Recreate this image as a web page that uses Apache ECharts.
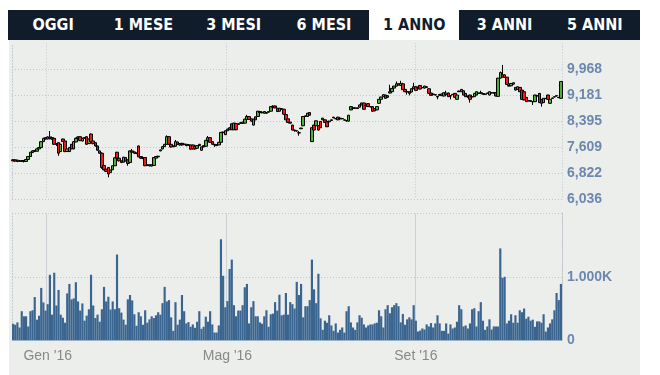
<!DOCTYPE html>
<html>
<head>
<meta charset="utf-8">
<script src="https://cdn.jsdelivr.net/npm/echarts@6/dist/echarts.min.js"></script>
<style>
  html, body { margin:0; padding:0; background:#ffffff; width:660px; height:375px; overflow:hidden; }
  #panel { position:absolute; left:9px; top:40px; width:631px; height:335px; background:#eceeec; }
  #tabs { position:absolute; left:8px; top:10px; width:632px; height:30px; background:#111c2a; display:flex; z-index:5; }
  .tab { flex:1 1 0; text-align:center; line-height:30px; color:#ffffff; font-family:"Liberation Sans Narrow","DejaVu Sans Condensed","Liberation Sans",sans-serif; font-weight:bold; font-size:16px; }
  .tab.active { background:#ffffff; color:#111c2a; }
  #chart { position:absolute; left:0; top:0; width:660px; height:375px; }
</style>
</head>
<body>
<div id="panel"></div>
<div id="tabs"></div>
<div id="chart"></div>
<script>
// ---- tabs ----
const tabLabels = ["OGGI", "1 MESE", "3 MESI", "6 MESI", "1 ANNO", "3 ANNI", "5 ANNI"];
const activeTab = "1 ANNO";

// ---- price axis ----
const priceMin = 6036;
const priceStep = 786.4;
const priceTickLabels = ["6,036", "6,822", "7,609", "8,395", "9,181", "9,968", ""];

// ---- volume axis (K) ----
const volStep = 1000;
const volTickLabels = ["0", "1.000K", ""];

// ---- x axis month marks (trading-day index) ----
const monthIndex = [16, 99, 186];
const monthLabels = ["Gen '16", "Mag '16", "Set '16"];

// ---- daily candles ----
const openP = [7200,7230,7220,7190,7180,7210,7180,7240,7330,7450,7510,7490,7560,7600,7780,7900,7860,7920,7900,7880,
7720,7750,7480,7860,7800,7480,7480,7700,7560,7770,7880,7930,7800,7900,7930,7720,8010,7800,7750,7650,
7500,7430,7060,6950,7000,6850,6930,7050,7460,7280,7200,7160,7300,7230,7150,7500,7470,7440,7650,7330,
7300,7300,7060,7080,7040,7060,7280,7320,7500,7560,7630,7700,7930,7700,7630,7640,7770,7680,7730,7690,
7700,7670,7680,7680,7640,7580,7660,7520,7660,7640,7820,7900,7780,7700,7660,7680,7760,8070,7990,8110,
8200,8320,8140,8330,8300,8340,8330,8340,8450,8540,8470,8280,8530,8540,8690,8650,8640,8660,8670,8700,
8850,8860,8790,8700,8780,8760,8600,8470,8370,8280,8130,8110,8050,8170,8260,8540,8540,8660,7780,8280,
8260,8270,8390,8440,8440,8380,8400,8420,8500,8480,8520,8470,8480,8440,8420,8400,8740,8800,8790,8800,
8820,8890,8950,8860,8930,8840,8840,8780,8740,8940,9060,9140,9190,9170,9250,9290,9400,9460,9530,9480,
9530,9360,9290,9290,9280,9380,9440,9400,9480,9420,9400,9440,9380,9250,9220,9200,9150,9210,9220,9160,
9200,9250,9170,9210,9240,9060,9310,9290,9320,9240,9160,9190,9140,9140,9190,9240,9260,9220,9210,9240,
9190,9260,9250,9260,9150,9700,9800,9800,9730,9480,9470,9520,9420,9360,9420,9340,9290,9120,9020,9020,
8990,8990,9170,9240,9060,8960,9090,9190,8940,9090,9140,9160,9120,9090];
const closeP = [7230,7190,7180,7200,7210,7180,7240,7330,7460,7500,7480,7560,7600,7780,7880,7860,7920,7870,7860,7700,
7700,7430,7700,7780,7480,7560,7600,7560,7780,7880,7920,7810,7880,7890,7700,7860,7780,7720,7650,7520,
7430,7000,6930,6880,6800,6920,7050,7290,7280,7200,7150,7310,7200,7120,7500,7460,7430,7420,7320,7280,
7270,7050,7080,7050,7080,7300,7330,7340,7530,7630,7700,7930,7700,7620,7650,7780,7700,7720,7680,7710,
7660,7690,7550,7560,7560,7660,7700,7620,7620,7820,7900,7760,7700,7680,7690,7760,8060,8050,8110,8160,
8140,8140,8340,8140,8320,8350,8370,8460,8540,8450,8400,8460,8440,8700,8660,8670,8690,8640,8690,8840,
8820,8800,8690,8790,8760,8610,8440,8360,8340,8130,8120,8100,8040,8190,8540,8560,8640,8580,8200,8130,
8410,8130,8200,8490,8360,8230,8380,8440,8520,8470,8440,8490,8470,8430,8410,8580,8840,8790,8800,8780,
8890,8950,8760,8880,8840,8830,8700,8710,8840,9060,9130,9200,9090,9120,9290,9390,9460,9530,9490,9540,
9350,9290,9280,9240,9380,9440,9330,9420,9370,9410,9460,9420,9240,9180,9200,9190,9130,9180,9170,9260,
9250,9140,9160,9200,9120,9190,9290,9360,9190,9140,9140,9060,9130,9240,9290,9250,9240,9230,9220,9250,
9290,9250,9260,9160,9700,9870,9730,9720,9510,9460,9540,9560,9340,9440,9290,9060,9040,8990,9010,9000,
8990,9190,9160,8960,8940,9090,9080,9060,9060,9100,9130,9170,9110,9600];
const lowP = [7190,7170,7160,7170,7170,7150,7170,7230,7320,7440,7470,7480,7550,7590,7770,7840,7850,7850,7840,7680,
7650,7350,7470,7770,7460,7470,7470,7550,7550,7760,7870,7800,7790,7870,7690,7710,7770,7700,7630,7500,
7410,6960,6910,6860,6700,6830,6920,7040,7270,7180,7130,7150,7180,7050,7140,7440,7410,7400,7310,7260,
7250,7040,7040,7030,7030,7050,7270,7300,7490,7550,7620,7690,7690,7600,7610,7630,7690,7660,7660,7680,
7640,7650,7540,7540,7540,7570,7650,7500,7610,7630,7810,7750,7690,7620,7650,7670,7750,8040,7980,8100,
8130,8130,8130,8130,8290,8320,8320,8330,8440,8440,8390,8270,8430,8530,8650,8640,8630,8630,8660,8690,
8810,8790,8680,8690,8750,8600,8430,8350,8330,8120,8080,8090,7960,8160,8250,8530,8530,8570,7770,8120,
8250,8120,8190,8430,8350,8220,8370,8410,8490,8460,8430,8460,8460,8420,8380,8390,8730,8780,8780,8770,
8810,8880,8750,8850,8830,8820,8690,8700,8730,8930,9050,9130,9080,9110,9240,9280,9390,9450,9480,9470,
9340,9280,9200,9180,9270,9370,9320,9390,9360,9400,9390,9410,9230,9170,9190,9180,9060,9170,9160,9150,
9190,9130,9060,9190,9110,9050,9280,9280,9180,9130,9100,8960,9120,9130,9180,9230,9230,9210,9200,9230,
9180,9240,9240,9150,9140,9690,9720,9710,9500,9450,9460,9510,9330,9350,9280,9050,9030,8980,9000,8990,
8890,8980,9150,8950,8840,8950,9070,9050,8930,9080,9120,9150,9100,9080];
const highP = [7250,7240,7230,7220,7220,7220,7250,7340,7470,7520,7530,7570,7620,7790,7900,7920,7940,8100,7930,7900,
7740,7760,7720,7870,7810,7580,7620,7710,7790,7900,7940,7940,7900,7920,7940,7870,8030,7900,7760,7660,
7510,7460,7070,6970,7010,6930,7060,7300,7470,7290,7210,7320,7310,7240,7510,7560,7480,7450,7660,7340,
7310,7310,7090,7090,7090,7310,7340,7350,7540,7640,7710,7970,7940,7710,7660,7830,7780,7740,7740,7720,
7710,7700,7690,7690,7650,7670,7710,7630,7670,7830,7950,7910,7790,7710,7700,7770,8070,8080,8120,8170,
8210,8330,8350,8340,8330,8360,8380,8470,8590,8550,8480,8470,8540,8710,8700,8680,8700,8670,8700,8850,
8880,8870,8800,8800,8790,8770,8610,8480,8380,8290,8140,8120,8100,8200,8550,8570,8650,8670,8210,8290,
8420,8280,8400,8500,8450,8390,8410,8450,8530,8490,8530,8500,8490,8450,8430,8590,8850,8810,8810,8810,
8900,8960,8960,8890,8940,8850,8850,8790,8850,9070,9140,9210,9200,9180,9500,9400,9470,9600,9540,9620,
9560,9370,9300,9300,9390,9560,9450,9430,9490,9430,9470,9450,9390,9260,9230,9210,9160,9220,9230,9270,
9320,9260,9180,9220,9250,9200,9320,9370,9330,9250,9170,9200,9150,9250,9300,9260,9320,9240,9230,9260,
9300,9270,9270,9270,9710,9900,10100,9810,9740,9490,9550,9570,9430,9450,9430,9350,9300,9130,9030,9030,
9000,9200,9180,9250,9070,9100,9100,9200,9070,9110,9150,9180,9130,9610];

// ---- daily volume (thousands) ----
const volume = [261,245,282,202,458,378,378,218,458,473,
681,325,388,825,596,468,569,1032,404,1064,
548,793,404,356,277,739,888,644,660,915,
612,468,580,309,388,489,1032,548,351,404,
293,489,841,612,686,484,612,489,1351,505,
436,325,245,644,713,628,410,229,442,378,
245,473,277,330,378,351,394,442,404,585,
841,612,633,362,149,601,245,325,713,458,
266,287,213,250,197,293,458,181,213,372,
293,458,250,122,122,234,1591,1016,521,617,
1123,1271,553,378,468,468,553,835,888,266,
521,617,378,378,282,261,378,473,213,410,
420,601,468,718,394,404,745,
404,601,569,500,920,713,888,362,537,537,
633,1271,803,585,1048,346,165,309,277,394,
234,149,266,122,165,202,122,458,537,282,
202,165,282,394,356,250,202,234,250,250,
266,277,473,378,202,489,553,426,521,553,
585,537,282,415,245,330,362,330,553,309,
138,154,186,170,250,218,271,202,266,394,
266,149,149,266,106,250,186,202,293,553,
489,218,234,186,266,489,505,218,458,601,
309,165,218,330,170,218,218,218,1447,984,
1000,266,309,410,277,394,277,473,442,500,
340,372,309,325,213,298,298,277,410,138,
202,266,330,473,745,633,888];

// ---- build tabs ----
const tabsEl = document.getElementById('tabs');
tabLabels.forEach(t => {
  const d = document.createElement('div');
  d.className = 'tab' + (t === activeTab ? ' active' : '');
  d.textContent = t;
  tabsEl.appendChild(d);
});

// ---- chart ----
const days = volume.map((_, i) => String(i));
const candles = openP.map((o, i) => [o, closeP[i], lowP[i], highP[i]]);
const priceMax = priceMin + priceStep * (priceTickLabels.length - 1);

const dotted = { color: '#c3c6ce', type: [1, 2], width: 1 };
const fontFam = '"Liberation Sans", Arial, sans-serif';

const chart = echarts.init(document.getElementById('chart'), null, { renderer: 'canvas' });
chart.setOption({
  animation: false,
  backgroundColor: 'transparent',
  grid: [
    { left: 12, right: 98, top: 43.3, height: 156 },
    { left: 12, right: 98, top: 213.3, height: 127 }
  ],
  xAxis: [
    {
      type: 'category', gridIndex: 0, data: days, boundaryGap: true,
      axisLine: { show: false }, axisTick: { show: false }, axisLabel: { show: false },
      splitLine: { show: true, interval: (i) => monthIndex.includes(i), lineStyle: dotted }
    },
    {
      type: 'category', gridIndex: 1, data: days, boundaryGap: true,
      axisLine: { show: true, lineStyle: { color: '#c8cfd8', width: 1 } },
      axisTick: { show: false },
      axisLabel: {
        interval: (i) => monthIndex.includes(i),
        formatter: (v, i) => { const k = monthIndex.indexOf(Number(v)); return k >= 0 ? monthLabels[k] : ''; },
        color: '#888888', fontSize: 14, fontFamily: fontFam, margin: 9
      },
      splitLine: { show: true, interval: (i) => monthIndex.includes(i), lineStyle: { color: '#cdd0d4', width: 1 } }
    }
  ],
  yAxis: [
    {
      type: 'value', gridIndex: 0, position: 'right', min: priceMin, max: priceMax, interval: priceStep,
      axisLine: { show: false }, axisTick: { show: false },
      axisLabel: {
        formatter: (v) => priceTickLabels[Math.round((v - priceMin) / priceStep)] || '',
        color: '#6d88ae', fontWeight: 'bold', fontSize: 14, fontFamily: fontFam, margin: 5
      },
      splitLine: { show: true, lineStyle: dotted, showMaxLine: false }
    },
    {
      type: 'value', gridIndex: 1, position: 'right', min: 0, max: volStep * (volTickLabels.length - 1), interval: volStep,
      axisLine: { show: true, lineStyle: dotted }, axisTick: { show: false },
      axisLabel: {
        formatter: (v) => volTickLabels[Math.round(v / volStep)] || '',
        color: '#6d88ae', fontWeight: 'bold', fontSize: 14, fontFamily: fontFam, margin: 5
      },
      splitLine: { show: true, lineStyle: dotted }
    },
    {
      type: 'value', gridIndex: 0, position: 'left', min: 0, max: 1,
      axisLine: { show: true, lineStyle: dotted }, axisTick: { show: false }, axisLabel: { show: false }, splitLine: { show: false }
    },
    {
      type: 'value', gridIndex: 1, position: 'left', min: 0, max: 1,
      axisLine: { show: true, lineStyle: dotted }, axisTick: { show: false }, axisLabel: { show: false }, splitLine: { show: false }
    }
  ],
  series: [
    {
      type: 'candlestick', xAxisIndex: 0, yAxisIndex: 0, data: candles,
      barWidth: 3, clip: false,
      itemStyle: { color: '#4cb133', color0: '#ee1a1a', borderColor: '#000000', borderColor0: '#000000', borderWidth: 1 }
    },
    {
      type: 'bar', xAxisIndex: 1, yAxisIndex: 1, data: volume,
      barCategoryGap: '0%',
      itemStyle: { color: '#3a6590' }
    }
  ]
});
</script>
</body>
</html>
